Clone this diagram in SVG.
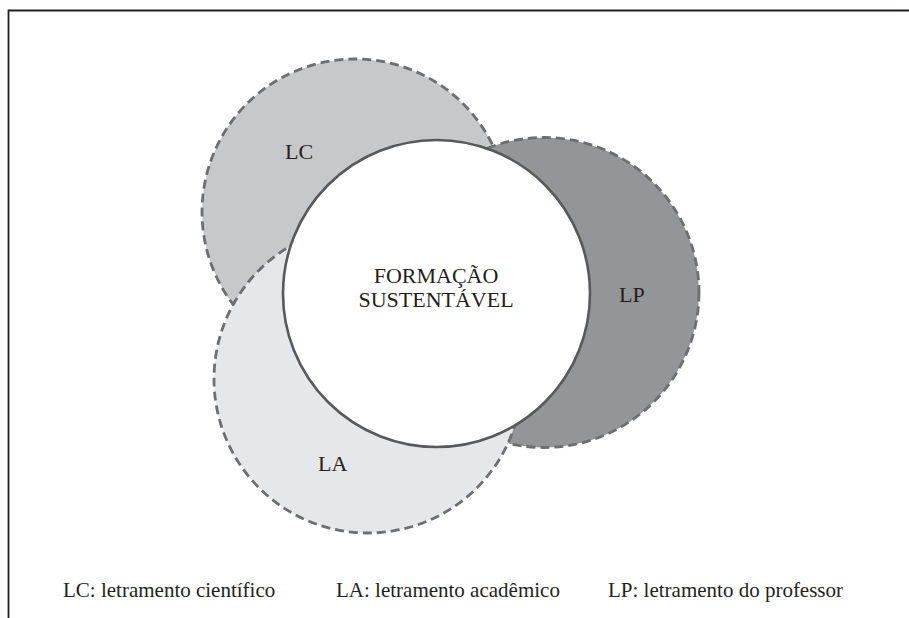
<svg xmlns="http://www.w3.org/2000/svg" width="909" height="618" viewBox="0 0 909 618">
<style>
.frame{fill:none;stroke:#231f20;stroke-width:1.8}
.set{stroke:#6d6e71;stroke-width:2.8;stroke-dasharray:9 5}
.core{fill:#ffffff;stroke:#58595b;stroke-width:2.6}
text{font-family:"Liberation Serif","DejaVu Serif",serif;font-size:22px;fill:#231f20}
.lg{font-size:21px}
</style>
<rect width="909" height="618" fill="#ffffff"/>
<g id="frame">
<path class="frame" d="M8.5 618 V10.5 H909"/>
</g>
<g id="LC">
<circle class="set" cx="355" cy="212" r="153" fill="#c7c8ca"/>
<text x="285" y="159" font-family="Liberation Serif, serif">LC</text>
</g>
<g id="LP">
<circle class="set" cx="544" cy="292.5" r="155" fill="#939598"/>
<text x="619" y="302" font-family="Liberation Serif, serif">LP</text>
</g>
<g id="LA">
<circle class="set" cx="368" cy="379" r="154" fill="#e6e7e8"/>
<text x="318" y="471" font-family="Liberation Serif, serif">LA</text>
</g>
<g id="FS">
<circle class="core" cx="436.5" cy="293.5" r="153.5"/>
<text x="436" y="283" text-anchor="middle" font-family="Liberation Serif, serif">FORMAÇÃO</text>
<text x="436" y="307" text-anchor="middle" font-family="Liberation Serif, serif">SUSTENTÁVEL</text>
</g>
<g id="connectors"></g>
<g id="legend">
<text class="lg" x="63" y="597" font-family="Liberation Serif, serif">LC: letramento científico</text>
<text class="lg" x="336" y="597" font-family="Liberation Serif, serif">LA: letramento acadêmico</text>
<text class="lg" x="608" y="597" font-family="Liberation Serif, serif">LP: letramento do professor</text>
</g>
</svg>
